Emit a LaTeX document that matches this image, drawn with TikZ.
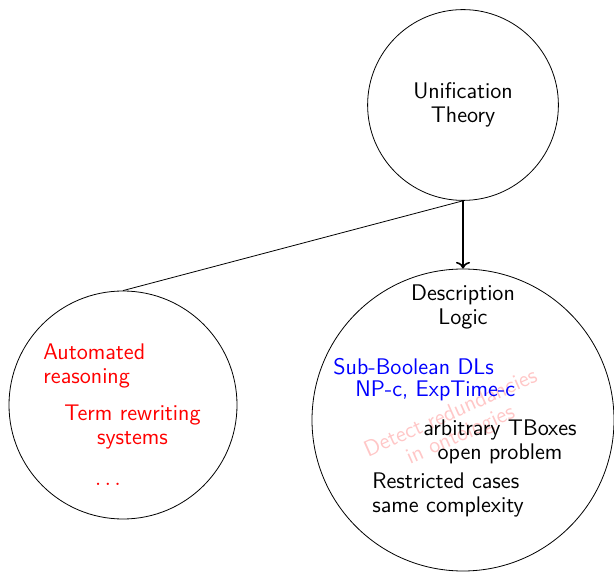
\documentclass[tikz,border=0pt]{standalone}
\usetikzlibrary{arrows.meta}
\begin{document}
\begin{tikzpicture}[x=1pt,y=1pt,font=\sffamily\fontsize{11.3pt}{12pt}\selectfont,
  topic/.style={circle,draw,thin,inner sep=0pt},
  txt/.style={inner sep=0pt,align=left},
  redtxt/.style={txt,text=red},
  bluetxt/.style={txt,text=blue},
  watermark/.style={text=red!22,align=center,inner sep=0pt,rotate=24}]
\useasboundingbox (0,0) rectangle (307,286);

% the three topic circles
\node[topic,minimum size=95.4pt,align=center] (ut) at (231.5,233.5) {Unification\\Theory};
\node[topic,minimum size=114pt] (ar) at (61.5,83.5) {};
\node[topic,minimum size=151pt] (dl) at (231.5,76) {};

% connectors
\draw[thin] (ar.north) -- (ut.south);
\draw[thick,->] (ut.south) -- (dl.north);

% Automated reasoning circle contents
\node[redtxt,anchor=west] (auto) at (21.5,103.25) {Automated\\reasoning};
\node[redtxt,align=center] (trs) at (66.25,72.25) {Term rewriting\\systems};
\node[redtxt] (dots) at (54,44) {$\dots$};

% Description Logic circle contents
\node[txt,align=center] (dltitle) at (231.5,132.5) {Description\\Logic};
\node[watermark] (wm) at (228,73.5) {Detect redundancies\\in ontologies};
\node[bluetxt,anchor=west] (sub) at (166.5,102.5) {Sub-Boolean DLs};
\node[bluetxt,anchor=west] (np) at (177.5,90.5) {NP-c, ExpTime-c};
\node[txt,align=center] (tbox) at (250,65.25) {arbitrary TBoxes\\open problem};
\node[txt,anchor=west] (restr) at (186,38.5) {Restricted cases\\same complexity};
\end{tikzpicture}
\end{document}
